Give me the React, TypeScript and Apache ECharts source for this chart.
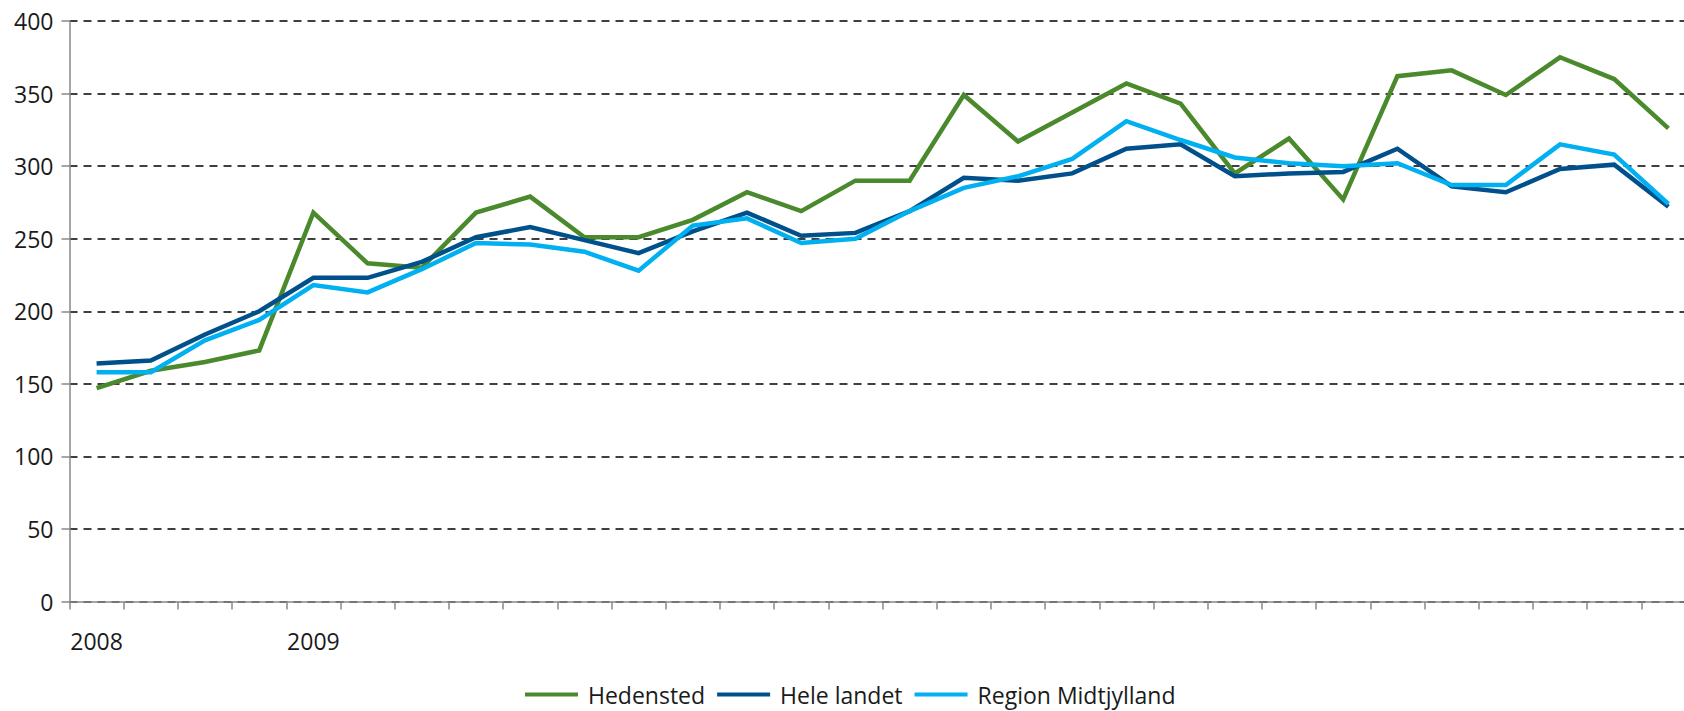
import React, { useEffect, useRef } from "react";
import * as echarts from "echarts";

const categories: string[] = [
  "2008", "", "", "", "2009", "", "", "", "", "",
  "", "", "", "", "", "", "", "", "", "",
  "", "", "", "", "", "", "", "", "", "",
];

const hedensted: number[] = [
  147, 159, 165, 173, 268, 233, 230, 268, 279, 251,
  251, 263, 282, 269, 290, 290, 349, 317, 337, 357,
  343, 295, 319, 277, 362, 366, 349, 375, 360, 326,
];

const heleLandet: number[] = [
  164, 166, 184, 200, 223, 223, 234, 251, 258, 249,
  240, 255, 268, 252, 254, 269, 292, 290, 295, 312,
  315, 293, 295, 296, 312, 286, 282, 298, 301, 272,
];

const regionMidtjylland: number[] = [
  158, 158, 180, 194, 218, 213, 229, 247, 246, 241,
  228, 259, 264, 247, 250, 269, 285, 293, 305, 331,
  318, 306, 302, 300, 302, 287, 287, 315, 308, 274,
];

const yTicks = { min: 0, max: 400, interval: 50 };

const seriesNames = ["Hedensted", "Hele landet", "Region Midtjylland"];
const seriesColors = ["#4A8A2C", "#00508C", "#00B0F0"];

export default function App() {
  const ref = useRef<HTMLDivElement>(null);

  useEffect(() => {
    if (!ref.current) return;
    const chart = echarts.init(ref.current, undefined, { renderer: "svg" });
    const font = "'Open Sans', sans-serif";
    const dataSets = [hedensted, heleLandet, regionMidtjylland];
    chart.setOption({
      animation: false,
      backgroundColor: "#ffffff",
      grid: {
        left: 69.5,
        top: 21,
        width: 1626,
        height: 580.5,
        containLabel: false,
      },
      legend: {
        data: seriesNames,
        top: 678,
        left: 520,
        icon: "rect",
        itemWidth: 53,
        itemHeight: 4,
        itemGap: 12,
        textStyle: {
          fontFamily: font,
          fontSize: 23,
          color: "#1a1a1a",
          padding: [0, 0, 0, 5],
        },
      },
      xAxis: {
        type: "category",
        data: categories,
        boundaryGap: true,
        axisLine: { show: true, lineStyle: { color: "#888888", width: 1.5 } },
        axisTick: {
          show: true,
          interval: 0,
          length: 8,
          lineStyle: { color: "#888888", width: 1.5 },
        },
        axisLabel: {
          interval: 0,
          margin: 28,
          fontFamily: font,
          fontSize: 23,
          color: "#1a1a1a",
        },
        splitLine: { show: false },
      },
      yAxis: {
        type: "value",
        min: yTicks.min,
        max: yTicks.max,
        interval: yTicks.interval,
        axisLine: { show: true, lineStyle: { color: "#888888", width: 1.5 } },
        axisTick: {
          show: true,
          length: 8,
          lineStyle: { color: "#888888", width: 1.5 },
        },
        axisLabel: {
          margin: 16,
          fontFamily: font,
          fontSize: 23,
          color: "#1a1a1a",
        },
        splitLine: {
          show: true,
          lineStyle: { color: "#000000", width: 1.5, type: [8, 6] },
        },
      },
      series: seriesNames.map((name, i) => ({
        name,
        type: "line",
        data: dataSets[i],
        symbol: "none",
        showSymbol: false,
        itemStyle: { color: seriesColors[i] },
        lineStyle: { color: seriesColors[i], width: 4.5, join: "miter" },
        z: 2 + i,
      })),
    });
    return () => {
      chart.dispose();
    };
  }, []);

  return (
    <div
      style={{
        position: "absolute",
        left: 0,
        top: 0,
        width: 1684,
        height: 711,
        overflow: "hidden",
        background: "#ffffff",
      }}
    >
      <div ref={ref} style={{ width: 1710, height: 711 }} />
    </div>
  );
}
